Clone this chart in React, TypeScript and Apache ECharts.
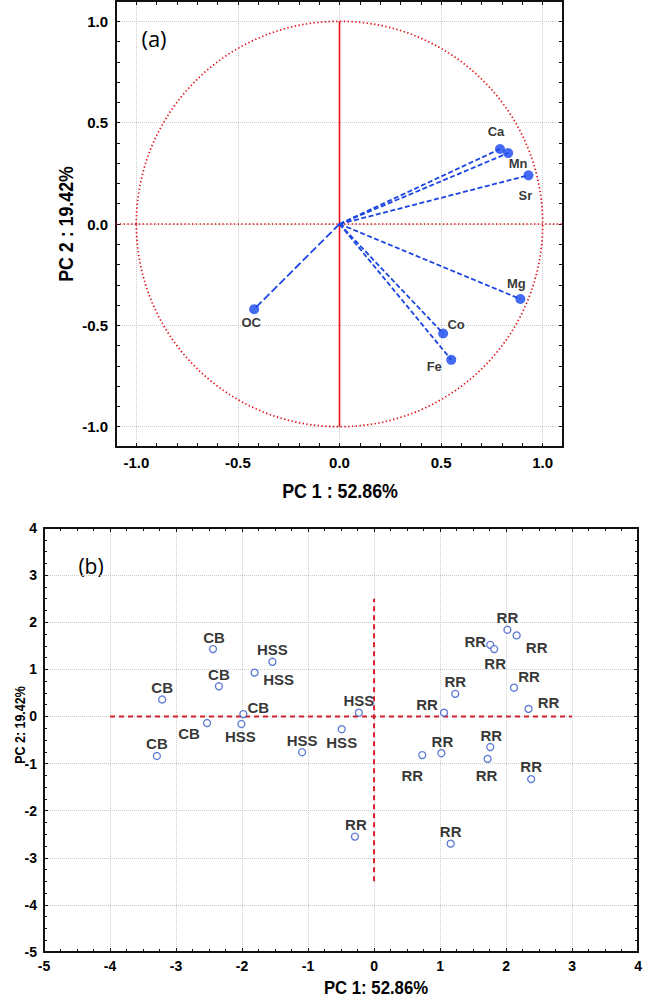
import React, { useEffect, useRef } from "react";
import * as echarts from "echarts";

// ---------- Panel (a): loadings ----------
const VARIABLES = ["Ca", "Mn", "Sr", "Mg", "Co", "Fe", "OC"];
const LOADING_PC1 = [0.79, 0.83, 0.93, 0.89, 0.51, 0.55, -0.42];
const LOADING_PC2 = [0.37, 0.35, 0.24, -0.37, -0.54, -0.67, -0.42];
const LOADING_TICKS = [-1.0, -0.5, 0.0, 0.5, 1.0];
const CIRCLE_RADIUS = [1];
const REF_H_A = [[-1.1, 0], [1.1, 0]];
const REF_V_A = [[0, -1], [0, 1]];

// ---------- Panel (b): scores ----------
const SAMPLE_GROUPS = [
  "CB", "HSS", "HSS", "CB", "CB", "CB", "HSS", "CB", "HSS", "HSS", "HSS", "CB",
  "RR", "RR", "RR", "RR", "RR", "RR", "RR", "RR", "RR", "RR", "RR", "RR", "RR", "RR", "RR",
];
const SCORE_PC1 = [
  -2.44, -1.54, -1.81, -2.35, -3.21, -1.98, -0.23, -2.53, -2.01, -0.49, -1.09, -3.29,
  2.02, 2.16, 1.76, 1.82, 2.12, 1.23, 2.34, 1.06, 1.76, 1.02, 0.73, 1.72, 2.38, -0.29, 1.16,
];
const SCORE_PC2 = [
  1.43, 1.16, 0.93, 0.64, 0.36, 0.05, 0.08, -0.14, -0.16, -0.27, -0.76, -0.84,
  1.84, 1.72, 1.52, 1.43, 0.61, 0.48, 0.16, 0.08, -0.65, -0.78, -0.82, -0.90, -1.33, -2.55, -2.70,
];
const SCORE_TICKS = [-5, -4, -3, -2, -1, 0, 1, 2, 3, 4];
const REF_H_B = [[-4, 0], [3, 0]];
const REF_V_B = [[0, -3.5], [0, 2.5]];

// label placement (pixel offsets of label centre from the point) — styling only
const VAR_LABEL_OFFSETS = [[-4, -17], [10, 10], [-3, 20], [-4, -16], [13, -9], [-17, 7], [-3, 13]];
const SAMPLE_LABEL_OFFSETS = [
  [1, -12], [0, -12], [24, 7], [0, -12], [0, -12], [15, -7], [0, -12], [-18, 10], [-1, 13], [0, 13], [0, -12], [0, -13],
  [0, -12], [20, 12], [-15, -3], [1, 14], [15, -11], [0, -12], [20, -6], [-17, -8], [1, -12], [1, -12], [-10, 20], [-1, 17], [0, -13], [1, -12], [0, -12],
];

const SANS = "'Liberation Sans', Arial, sans-serif";
const INK = "#000000";
const GRID_GRAY = "#cccccc";
const BLANK = "rgba(0,0,0,0)";

const near = (v: number, list: number[]) => list.some((t) => Math.abs(t - v) < 1e-6);

function frameAxis(extra: any) {
  return {
    type: "value",
    axisLine: { show: true, onZero: false, lineStyle: { color: "#111111", width: 2 } },
    axisTick: { show: true, inside: true, length: 4, lineStyle: { color: "#111111", width: 1 } },
    ...extra,
  };
}

export default function App() {
  const ref = useRef<HTMLDivElement>(null);

  useEffect(() => {
    if (!ref.current) return;
    const chart = echarts.init(ref.current, undefined, { renderer: "svg" });

    const labelA = {
      show: true,
      margin: 8,
      fontSize: 15,
      fontWeight: "bold",
      fontFamily: SANS,
      color: INK,
      formatter: (v: number) => (near(v, LOADING_TICKS) ? v.toFixed(1) : ""),
    };
    const labelB = {
      show: true,
      margin: 7,
      fontSize: 14,
      fontWeight: "bold",
      fontFamily: SANS,
      color: INK,
      formatter: (v: number) => (near(v, SCORE_TICKS) ? String(Math.round(v)) : ""),
    };
    const splitA = {
      show: true,
      lineStyle: { type: "dotted", width: 1, color: [BLANK, GRID_GRAY, BLANK, BLANK, BLANK] },
    };
    const splitB = { show: true, lineStyle: { type: "dotted", width: 1, color: GRID_GRAY } };
    const minorB = { show: true, splitNumber: 4, length: 3, lineStyle: { color: "#111111", width: 1 } };

    const varData = VARIABLES.map((name, i) => ({
      name,
      value: [LOADING_PC1[i], LOADING_PC2[i], i],
      label: { offset: VAR_LABEL_OFFSETS[i] },
    }));
    const sampleData = SAMPLE_GROUPS.map((name, i) => ({
      name,
      value: [SCORE_PC1[i], SCORE_PC2[i]],
      label: { offset: SAMPLE_LABEL_OFFSETS[i] },
    }));

    const titleStyle = (text: string, size: number) => ({
      text,
      fontSize: size,
      fontWeight: "bold",
      fontFamily: SANS,
      fill: INK,
      align: "center",
      verticalAlign: "middle",
    });

    const option: any = {
      animation: false,
      grid: [
        { left: 116, top: 1, width: 447, height: 446 },
        { left: 44, top: 528, width: 597, height: 424 },
      ],
      xAxis: [
        frameAxis({ gridIndex: 0, position: "bottom", min: -1.1, max: 1.1, interval: 0.1, axisLabel: labelA, splitLine: splitA }),
        frameAxis({ gridIndex: 0, position: "top", min: -1.1, max: 1.1, interval: 0.1, axisLabel: { show: false }, splitLine: { show: false } }),
        frameAxis({ gridIndex: 1, position: "bottom", min: -5, max: 4, interval: 1, axisLabel: labelB, splitLine: splitB, minorTick: minorB }),
        frameAxis({ gridIndex: 1, position: "top", min: -5, max: 4, interval: 1, axisLabel: { show: false }, splitLine: { show: false }, minorTick: minorB }),
      ],
      yAxis: [
        frameAxis({ gridIndex: 0, position: "left", min: -1.1, max: 1.1, interval: 0.1, axisLabel: labelA, splitLine: splitA }),
        frameAxis({ gridIndex: 0, position: "right", min: -1.1, max: 1.1, interval: 0.1, axisLabel: { show: false }, splitLine: { show: false } }),
        frameAxis({ gridIndex: 1, position: "left", min: -5, max: 4, interval: 1, axisLabel: labelB, splitLine: splitB, minorTick: minorB }),
        frameAxis({ gridIndex: 1, position: "right", min: -5, max: 4, interval: 1, axisLabel: { show: false }, splitLine: { show: false }, minorTick: minorB }),
      ],
      series: [
        // unit circle
        {
          type: "custom",
          xAxisIndex: 0,
          yAxisIndex: 0,
          data: CIRCLE_RADIUS.map((r) => [0, 0, r]),
          renderItem: (params: any, api: any) => {
            const c = api.coord([api.value(0), api.value(1)]);
            const s = api.size([api.value(2), api.value(2)]);
            return {
              type: "ellipse",
              shape: { cx: c[0], cy: c[1], rx: s[0], ry: s[1] },
              style: { fill: "none", stroke: "#e0141a", lineWidth: 1.7, lineDash: [1.4, 2.4] },
            };
          },
          silent: true,
          z: 2,
        },
        {
          type: "line",
          xAxisIndex: 0,
          yAxisIndex: 0,
          data: REF_H_A,
          showSymbol: false,
          lineStyle: { color: "#e0141a", width: 1.7, type: [1.4, 2.4] },
          silent: true,
          z: 2,
        },
        {
          type: "line",
          xAxisIndex: 0,
          yAxisIndex: 0,
          data: REF_V_A,
          showSymbol: false,
          lineStyle: { color: "#e8101a", width: 1.6, type: "solid" },
          silent: true,
          z: 2,
        },
        // loading vectors
        {
          type: "custom",
          xAxisIndex: 0,
          yAxisIndex: 0,
          data: VARIABLES.map((_, i) => [LOADING_PC1[i], LOADING_PC2[i], i]),
          renderItem: (params: any, api: any) => {
            const o = api.coord([0, 0]);
            const p = api.coord([api.value(0), api.value(1)]);
            const longDash = VARIABLES[api.value(2)] === "OC";
            return {
              type: "line",
              shape: { x1: o[0], y1: o[1], x2: p[0], y2: p[1] },
              style: { stroke: "#1b45e2", lineWidth: 1.8, lineDash: longDash ? [8, 3] : [5, 2.5], fill: "none" },
            };
          },
          silent: true,
          z: 3,
        },
        {
          type: "scatter",
          xAxisIndex: 0,
          yAxisIndex: 0,
          data: varData,
          symbol: "circle",
          symbolSize: 10,
          itemStyle: { color: "#1546ee" },
          label: {
            show: true,
            position: "inside",
            align: "center",
            verticalAlign: "middle",
            formatter: "{b}",
            fontSize: 13,
            fontWeight: "bold",
            fontFamily: SANS,
            color: INK,
          },
          z: 4,
        },
        // panel (b) reference lines
        {
          type: "line",
          xAxisIndex: 2,
          yAxisIndex: 2,
          data: REF_H_B,
          showSymbol: false,
          lineStyle: { color: "#d3202c", width: 2, type: [5, 4] },
          silent: true,
          z: 2,
        },
        {
          type: "line",
          xAxisIndex: 2,
          yAxisIndex: 2,
          data: REF_V_B,
          showSymbol: false,
          lineStyle: { color: "#d3202c", width: 2, type: [5, 4] },
          silent: true,
          z: 2,
        },
        {
          type: "scatter",
          xAxisIndex: 2,
          yAxisIndex: 2,
          data: sampleData,
          symbol: "circle",
          symbolSize: 7,
          itemStyle: { color: "#ffffff", borderColor: "#3457c8", borderWidth: 1.3 },
          label: {
            show: true,
            position: "inside",
            align: "center",
            verticalAlign: "middle",
            formatter: "{b}",
            fontSize: 15,
            fontWeight: "bold",
            fontFamily: SANS,
            color: INK,
          },
          z: 4,
        },
      ],
      graphic: [
        { type: "text", x: 154, y: 38, style: { text: "(a)", fontSize: 22, fontFamily: "'Open Sans', sans-serif", fill: INK, align: "center", verticalAlign: "middle" } },
        { type: "text", x: 91, y: 566, style: { text: "(b)", fontSize: 21, fontFamily: "'Open Sans', sans-serif", fill: INK, align: "center", verticalAlign: "middle" } },
        { type: "text", x: 340, y: 491, scaleX: 0.89, style: titleStyle("PC 1 : 52.86%", 20) },
        { type: "text", x: 66, y: 224, rotation: Math.PI / 2, scaleX: 0.89, style: titleStyle("PC 2 : 19.42%", 20) },
        { type: "text", x: 376, y: 988, scaleX: 0.93, style: titleStyle("PC 1: 52.86%", 18) },
        { type: "text", x: 20, y: 725, rotation: Math.PI / 2, scaleX: 0.83, style: titleStyle("PC 2: 19.42%", 15) },
      ],
    };

    chart.setOption(option);
    return () => chart.dispose();
  }, []);

  return (
    <div
      ref={ref}
      style={{ position: "absolute", left: 0, top: 0, width: 645, height: 1000, background: "#ffffff" }}
    />
  );
}
